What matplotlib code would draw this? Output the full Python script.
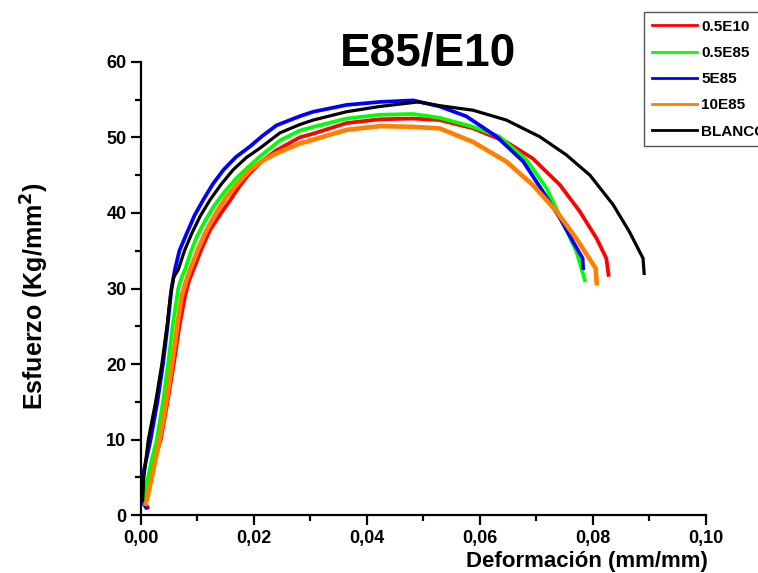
import matplotlib
matplotlib.use("Agg")
import matplotlib.pyplot as plt
from matplotlib.ticker import MultipleLocator, FuncFormatter

plt.rcParams['font.family'] = ['Liberation Sans', 'DejaVu Sans']
plt.rcParams['font.weight'] = 'bold'

# stress-strain curves, (strain mm/mm, stress Kg/mm2)
e10_05_x = [0.0012, 0.0008, 0.0015, 0.0035, 0.0047, 0.0058, 0.0068, 0.0078, 0.0085, 0.0093,
            0.0107, 0.0122, 0.014, 0.0158, 0.0175, 0.0193, 0.0215, 0.024, 0.0281, 0.0305,
            0.0364, 0.0423, 0.0482, 0.0529, 0.0588, 0.0647, 0.0694, 0.0742, 0.0777, 0.0807,
            0.0824, 0.0828]
e10_05_y = [1.0, 1.5, 5, 10, 15, 20, 25, 29, 31, 32.5,
            35.2, 37.7, 39.8, 41.7, 43.6, 45.3, 46.9, 48.3, 50.0, 50.5,
            51.9, 52.4, 52.5, 52.3, 51.2, 49.4, 47.2, 43.7, 40.2, 36.6,
            34.0, 31.8]

e85_05_x = [0.0005, 0.0007, 0.0018, 0.0028, 0.0039, 0.0048, 0.0056, 0.0066, 0.0072, 0.0078,
            0.0088, 0.0099, 0.0113, 0.0128, 0.0148, 0.0169, 0.019, 0.0211, 0.0246, 0.0281,
            0.0305, 0.0364, 0.0423, 0.0482, 0.0529, 0.0588, 0.0635, 0.0683, 0.0718, 0.0747,
            0.0771, 0.0786]
e85_05_y = [1.5, 3, 7, 10, 15, 20, 25, 30, 31.5, 32.5,
            34.8, 36.9, 38.9, 40.8, 42.8, 44.6, 46.1, 47.5, 49.6, 50.9,
            51.4, 52.5, 53.0, 53.1, 52.6, 51.4, 50.1, 47.0, 43.3, 38.8,
            34.9, 31.1]

e85_5_x = [0.0009, 0.0002, 0.0002, 0.0017, 0.0029, 0.0039, 0.0047, 0.0054, 0.0060, 0.0068,
           0.0081, 0.0095, 0.011, 0.0127, 0.0146, 0.0168, 0.0193, 0.0215, 0.024, 0.0281,
           0.0305, 0.0364, 0.0423, 0.0482, 0.0529, 0.0576, 0.063, 0.0677, 0.0712, 0.0742,
           0.0765, 0.0782, 0.0783]
e85_5_y = [1.0, 1.8, 4.8, 10, 15, 20, 25, 30, 32.5, 35,
           37.3, 39.7, 41.7, 43.8, 45.7, 47.4, 48.8, 50.2, 51.6, 52.8,
           53.4, 54.3, 54.7, 54.9, 54.1, 52.8, 50.1, 46.8, 42.8, 39.3,
           36.2, 34.0, 32.7]

e85_10_x = [0.0008, 0.0012, 0.0022, 0.0033, 0.0045, 0.0055, 0.0064, 0.0072, 0.0080, 0.0087,
            0.0101, 0.0116, 0.0134, 0.0152, 0.0172, 0.0193, 0.0215, 0.024, 0.0281, 0.0305,
            0.0364, 0.0423, 0.0482, 0.0529, 0.0588, 0.0647, 0.0694, 0.0736, 0.0771, 0.0798,
            0.0805, 0.0807]
e85_10_y = [1.5, 2.5, 6, 10, 15, 20, 25, 29, 31, 32.5,
            35.2, 37.7, 40.1, 42.2, 44.0, 45.7, 46.9, 47.9, 49.2, 49.7,
            51.0, 51.5, 51.4, 51.2, 49.4, 46.8, 43.7, 40.2, 36.6, 33.5,
            32.7, 30.7]

blanco_x = [0.0003, 0.0005, 0.0013, 0.0026, 0.0037, 0.0046, 0.0052, 0.0058, 0.0066, 0.0077,
            0.009, 0.0105, 0.0122, 0.0142, 0.0163, 0.0186, 0.0211, 0.0246, 0.0281, 0.0305,
            0.0364, 0.0423, 0.0491, 0.0529, 0.0588, 0.0647, 0.0706, 0.0753, 0.0795, 0.0836,
            0.0865, 0.0889, 0.0891]
blanco_y = [2.0, 5, 10, 15, 20, 25, 29, 31.5, 32.5, 35,
            37.3, 39.6, 41.7, 43.8, 45.7, 47.3, 48.6, 50.6, 51.7, 52.3,
            53.4, 54.1, 54.7, 54.2, 53.6, 52.3, 50.1, 47.7, 45.0, 41.1,
            37.5, 34.0, 32.0]

fig = plt.figure(figsize=(7.58, 5.73), dpi=100)
ax = fig.add_axes([0.186, 0.101, 0.745, 0.791])

ax.plot(e10_05_x, e10_05_y, color='#ff0000', lw=2.7, label='0.5E10')
ax.plot(e85_05_x, e85_05_y, color='#00ff00', lw=2.7, label='0.5E85')
ax.plot(e85_5_x, e85_5_y, color='#0000ff', lw=2.7, label='5E85')
ax.plot(e85_10_x, e85_10_y, color='#ff8000', lw=3.3, label='10E85')
ax.plot(blanco_x, blanco_y, color='black', lw=2.3, label='BLANCO')

ax.set_xlim(0, 0.10)
ax.set_ylim(0, 60)
ax.spines['top'].set_visible(False)
ax.spines['right'].set_visible(False)
for s in ['left', 'bottom']:
    ax.spines[s].set_linewidth(1.6)

ax.xaxis.set_major_locator(MultipleLocator(0.02))
ax.xaxis.set_minor_locator(MultipleLocator(0.01))
ax.yaxis.set_major_locator(MultipleLocator(10))
ax.yaxis.set_minor_locator(MultipleLocator(5))
ax.xaxis.set_major_formatter(FuncFormatter(lambda v, p: f"{v:.2f}".replace('.', ',')))
ax.tick_params(which='major', length=7, width=1.6, labelsize=13)
ax.tick_params(which='minor', length=4, width=1.6)
for lab in ax.get_xticklabels() + ax.get_yticklabels():
    lab.set_fontweight('bold')

fig.text(0.565, 0.907, 'E85/E10', fontsize=33, fontweight='bold', ha='center', va='center')
fig.text(0.774, 0.010, 'Deformación (mm/mm)', fontsize=16, fontweight='bold',
         ha='center', va='baseline')
fig.text(0.046, 0.483, 'Esfuerzo (Kg/mm$^\\mathbf{2}$)', fontsize=18, fontweight='bold',
         rotation=90, ha='center', va='center')

leg = ax.legend(loc='upper left', bbox_to_anchor=(644 / 758, 1 - 12 / 573),
                bbox_transform=fig.transFigure, fancybox=False, framealpha=1,
                edgecolor='#555555', fontsize=11, handlelength=3.0, handletextpad=0.25,
                labelspacing=0.8, borderpad=0.5, borderaxespad=0)
leg.get_frame().set_linewidth(1.0)
for t in leg.get_texts():
    t.set_fontweight('bold')
for h in leg.get_lines():
    h.set_linewidth(2.0)

fig.savefig('out.png', dpi=100)
